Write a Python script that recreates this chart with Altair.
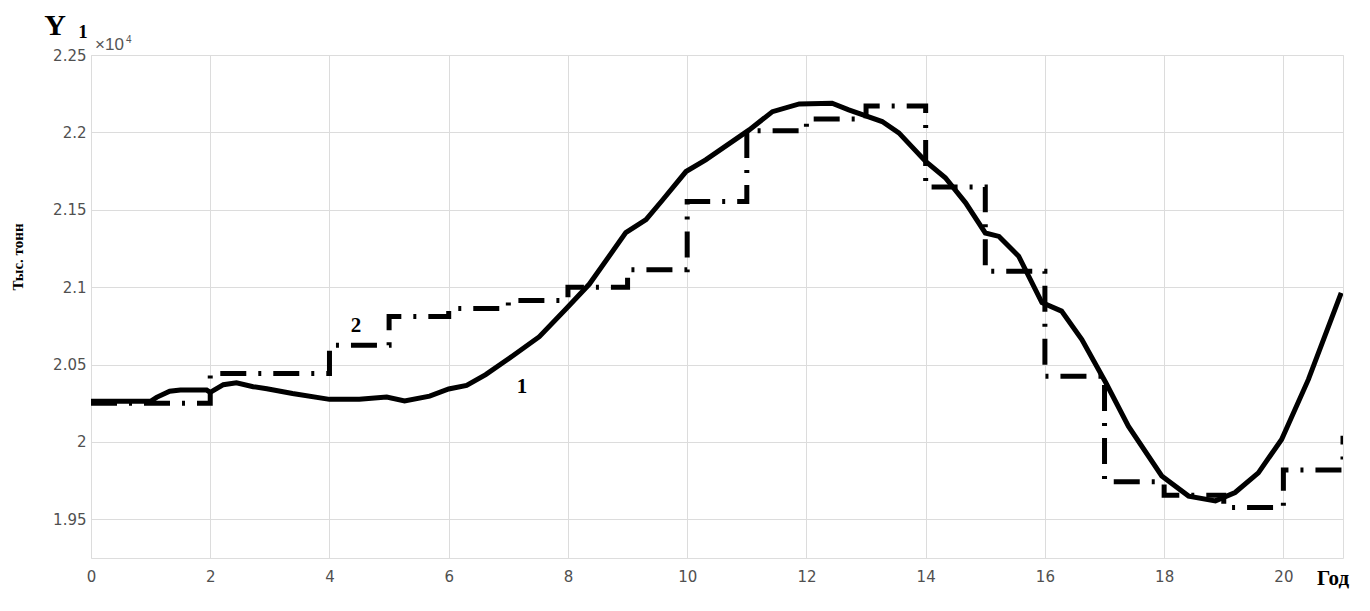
import altair as alt
import pandas as pd

# Curve 1 (solid): year vs thousand tonnes
x1 = [0, 1.0, 1.1, 1.32, 1.5, 1.94, 2.0, 2.22, 2.44, 2.72, 2.95, 3.38, 4.0, 4.5, 4.96, 5.26,
      5.68, 6.0, 6.3, 6.62, 7.07, 7.52, 7.97, 8.36, 8.97, 9.31, 9.58, 9.98, 10.31, 11.04, 11.43,
      11.88, 12.43, 12.71, 13.27, 13.55, 14.0, 14.33, 14.67, 15.0, 15.23, 15.56, 15.95, 16.28,
      16.62, 17.02, 17.4, 17.96, 18.41, 18.86, 19.19, 19.58, 19.97, 20.42, 20.97]
y1 = [20262, 20262, 20288, 20328, 20335, 20335, 20320, 20370, 20382, 20357, 20344, 20313, 20275,
      20275, 20290, 20264, 20296, 20342, 20365, 20435, 20555, 20680, 20860, 21020, 21352, 21436,
      21560, 21747, 21823, 22016, 22134, 22184, 22188, 22145, 22070, 21997, 21812, 21707, 21545,
      21350, 21328, 21200, 20900, 20845, 20662, 20384, 20102, 19780, 19650, 19619, 19673, 19800,
      20016, 20404, 20963]

# Curve 2 (step, dash-dot): start year of each step and its level
x2 = [0, 2, 4, 5, 6, 7, 8, 9, 10, 11, 12, 13, 14, 15, 16, 17, 18, 19, 20, 21]
y2 = [20250, 20442, 20625, 20810, 20862, 20913, 21000, 21113, 21554, 22010, 22087, 22171,
      21647, 21102, 20425, 19742, 19655, 19576, 19819, 20040]

x_ticks = [0, 2, 4, 6, 8, 10, 12, 14, 16, 18, 20]
y_ticks = [19500, 20000, 20500, 21000, 21500, 22000, 22500]

df1 = pd.DataFrame({"x": x1, "y": y1})
df2 = pd.DataFrame({"x": x2, "y": y2})

W, H = 1252, 503
xs = alt.Scale(domain=[0, 21], nice=False, zero=False)
ys = alt.Scale(domain=[19250, 22500], nice=False, zero=False)

xaxis = alt.Axis(values=x_ticks, grid=True, ticks=False, domain=False, title=None, format="d",
                 labelFont="DejaVu Sans", labelFontSize=15, labelColor="#505050",
                 labelPadding=11, gridColor="#dcdcdc", labelFlush=False)
yaxis = alt.Axis(values=y_ticks, grid=True, ticks=False, domain=False, title=None,
                 labelFont="DejaVu Sans", labelFontSize=15, labelColor="#505050",
                 labelPadding=5, gridColor="#dcdcdc", labelFlush=False,
                 labelExpr="format(datum.value / 10000, '.2~f')")

line1 = alt.Chart(df1).mark_line(color="black", strokeWidth=5, clip=True).encode(
    x=alt.X("x:Q", scale=xs, axis=xaxis),
    y=alt.Y("y:Q", scale=ys, axis=yaxis),
)

line2 = alt.Chart(df2).mark_line(color="black", strokeWidth=5, interpolate="step-after",
                                 strokeDash=[26, 12, 3, 12], strokeCap="butt", clip=True).encode(
    x=alt.X("x:Q", scale=xs),
    y=alt.Y("y:Q", scale=ys),
)


def txt(label, px, py, size, font="Liberation Serif", weight="bold", color="black",
        align="center", baseline="alphabetic", angle=0):
    kw = dict(font=font, fontSize=size, fontWeight=weight, color=color, align=align,
              baseline=baseline)
    if angle:
        kw["angle"] = angle
    return alt.Chart(pd.DataFrame({"t": [label]})).mark_text(**kw).encode(
        x=alt.value(px), y=alt.value(py), text="t:N")


texts = [
    txt("Y", -36, -20, 30),
    txt("1", -8, -17, 19),
    txt("×10", 4, -5, 17, font="Liberation Sans", weight="normal", color="#555555", align="left"),
    txt("4", 35, -12, 10, font="Liberation Sans", weight="normal", color="#555555", align="left"),
    txt("Тыс. тонн", -73, 257 - 55, 15, baseline="middle", angle=270),
    txt("Год", 1226, 530, 21, align="left"),
    txt("2", 265, 271, 21, baseline="middle"),
    txt("1", 431, 332, 21, baseline="middle"),
]

chart = alt.layer(line1, line2, *texts).properties(
    width=W, height=H,
    autosize=alt.AutoSizeParams(type="none"),
    padding={"left": 83, "top": 47, "right": 15, "bottom": 45},
).configure_view(stroke="#8c8c8c", strokeWidth=1.2).configure(background="white")

chart.save("out.html", embed_options={"renderer": "svg", "actions": False})
